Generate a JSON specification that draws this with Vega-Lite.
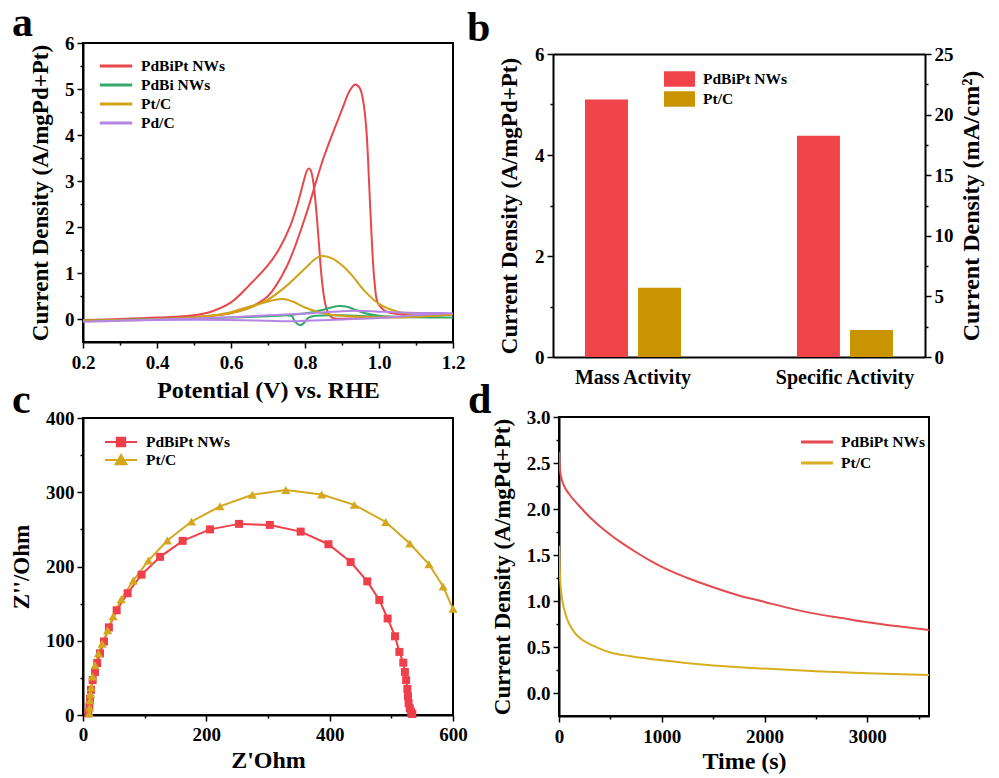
{
  "$schema": "https://vega.github.io/schema/vega-lite/v6.json",
  "background": "white",
  "padding": {"left": 9, "top": 1, "right": 5, "bottom": 2},
  "config": {
    "font": "Liberation Serif",
    "view": {"stroke": "black", "strokeWidth": 2},
    "axis": {"labelFont": "Liberation Serif", "labelFontWeight": "bold", "labelFontSize": 19, "labelColor": "black",
      "titleFont": "Liberation Serif", "titleFontWeight": "bold", "titleFontSize": 24, "titleColor": "black",
      "domainColor": "black", "domainWidth": 2, "tickColor": "black", "tickWidth": 1.5, "grid": false, "labelFlush": false, "labelOverlap": false},
    "axisY": {"titleFontSize": 23},
    "legend": {"labelFont": "Liberation Serif", "labelFontWeight": "bold", "labelFontSize": 15.5, "labelColor": "black", "padding": 0, "rowPadding": 0},
    "title": {"font": "Liberation Serif", "fontWeight": "bold", "fontSize": 42, "color": "black", "anchor": "start", "frame": "group", "baseline": "alphabetic"}
  },
  "columns": 2,
  "align": "none",
  "spacing": {"row": -25, "column": -2},
  "resolve": {"scale": {"color": "independent", "shape": "independent"}, "legend": {"color": "independent", "shape": "independent"}},
  "concat": [
    {
      "width": 370, "height": 299,
      "title": {"text": "a", "dx": -71, "offset": -11},
      "data": {"values": [
        {"s": "PdBiPt NWs", "i": 1, "v": 0.2, "j": -0.03}, {"s": "PdBiPt NWs", "i": 2, "v": 0.3, "j": -0.02}, {"s": "PdBiPt NWs", "i": 3, "v": 0.4, "j": 0.0}, {"s": "PdBiPt NWs", "i": 4, "v": 0.5, "j": 0.04}, {"s": "PdBiPt NWs", "i": 5, "v": 0.55, "j": 0.07}, {"s": "PdBiPt NWs", "i": 6, "v": 0.6, "j": 0.13}, {"s": "PdBiPt NWs", "i": 7, "v": 0.65, "j": 0.25}, {"s": "PdBiPt NWs", "i": 8, "v": 0.7, "j": 0.5}, {"s": "PdBiPt NWs", "i": 9, "v": 0.75, "j": 1.13}, {"s": "PdBiPt NWs", "i": 10, "v": 0.8, "j": 2.2}, {"s": "PdBiPt NWs", "i": 11, "v": 0.85, "j": 3.5}, {"s": "PdBiPt NWs", "i": 12, "v": 0.9, "j": 4.55}, {"s": "PdBiPt NWs", "i": 13, "v": 0.92, "j": 4.95}, {"s": "PdBiPt NWs", "i": 14, "v": 0.935, "j": 5.1}, {"s": "PdBiPt NWs", "i": 15, "v": 0.948, "j": 5.02}, {"s": "PdBiPt NWs", "i": 16, "v": 0.958, "j": 4.7}, {"s": "PdBiPt NWs", "i": 17, "v": 0.966, "j": 4.1}, {"s": "PdBiPt NWs", "i": 18, "v": 0.973, "j": 3.0}, {"s": "PdBiPt NWs", "i": 19, "v": 0.98, "j": 1.8}, {"s": "PdBiPt NWs", "i": 20, "v": 0.988, "j": 0.8}, {"s": "PdBiPt NWs", "i": 21, "v": 0.997, "j": 0.35}, {"s": "PdBiPt NWs", "i": 22, "v": 1.02, "j": 0.16}, {"s": "PdBiPt NWs", "i": 23, "v": 1.06, "j": 0.1}, {"s": "PdBiPt NWs", "i": 24, "v": 1.12, "j": 0.08}, {"s": "PdBiPt NWs", "i": 25, "v": 1.2, "j": 0.1},
        {"s": "PdBiPt NWs", "i": 26, "v": 1.1, "j": 0.05}, {"s": "PdBiPt NWs", "i": 27, "v": 1.0, "j": 0.03}, {"s": "PdBiPt NWs", "i": 28, "v": 0.92, "j": 0.01}, {"s": "PdBiPt NWs", "i": 29, "v": 0.88, "j": 0.01}, {"s": "PdBiPt NWs", "i": 30, "v": 0.87, "j": 0.05}, {"s": "PdBiPt NWs", "i": 31, "v": 0.86, "j": 0.18}, {"s": "PdBiPt NWs", "i": 32, "v": 0.852, "j": 0.45}, {"s": "PdBiPt NWs", "i": 33, "v": 0.845, "j": 0.9}, {"s": "PdBiPt NWs", "i": 34, "v": 0.838, "j": 1.6}, {"s": "PdBiPt NWs", "i": 35, "v": 0.83, "j": 2.4}, {"s": "PdBiPt NWs", "i": 36, "v": 0.822, "j": 3.0}, {"s": "PdBiPt NWs", "i": 37, "v": 0.815, "j": 3.24}, {"s": "PdBiPt NWs", "i": 38, "v": 0.81, "j": 3.27}, {"s": "PdBiPt NWs", "i": 39, "v": 0.805, "j": 3.22}, {"s": "PdBiPt NWs", "i": 40, "v": 0.795, "j": 2.95}, {"s": "PdBiPt NWs", "i": 41, "v": 0.78, "j": 2.5}, {"s": "PdBiPt NWs", "i": 42, "v": 0.76, "j": 2.02}, {"s": "PdBiPt NWs", "i": 43, "v": 0.73, "j": 1.52}, {"s": "PdBiPt NWs", "i": 44, "v": 0.7, "j": 1.17}, {"s": "PdBiPt NWs", "i": 45, "v": 0.65, "j": 0.74}, {"s": "PdBiPt NWs", "i": 46, "v": 0.6, "j": 0.36}, {"s": "PdBiPt NWs", "i": 47, "v": 0.55, "j": 0.17}, {"s": "PdBiPt NWs", "i": 48, "v": 0.5, "j": 0.08}, {"s": "PdBiPt NWs", "i": 49, "v": 0.4, "j": 0.03}, {"s": "PdBiPt NWs", "i": 50, "v": 0.3, "j": 0.0}, {"s": "PdBiPt NWs", "i": 51, "v": 0.2, "j": -0.02},
        {"s": "PdBi NWs", "i": 1, "v": 0.2, "j": -0.04}, {"s": "PdBi NWs", "i": 2, "v": 0.4, "j": -0.01}, {"s": "PdBi NWs", "i": 3, "v": 0.6, "j": 0.03}, {"s": "PdBi NWs", "i": 4, "v": 0.7, "j": 0.06}, {"s": "PdBi NWs", "i": 5, "v": 0.8, "j": 0.12}, {"s": "PdBi NWs", "i": 6, "v": 0.85, "j": 0.2}, {"s": "PdBi NWs", "i": 7, "v": 0.87, "j": 0.25}, {"s": "PdBi NWs", "i": 8, "v": 0.89, "j": 0.28}, {"s": "PdBi NWs", "i": 9, "v": 0.91, "j": 0.27}, {"s": "PdBi NWs", "i": 10, "v": 0.93, "j": 0.22}, {"s": "PdBi NWs", "i": 11, "v": 0.96, "j": 0.13}, {"s": "PdBi NWs", "i": 12, "v": 1.0, "j": 0.07}, {"s": "PdBi NWs", "i": 13, "v": 1.1, "j": 0.04}, {"s": "PdBi NWs", "i": 14, "v": 1.2, "j": 0.03},
        {"s": "PdBi NWs", "i": 15, "v": 1.0, "j": 0.05}, {"s": "PdBi NWs", "i": 16, "v": 0.9, "j": 0.08}, {"s": "PdBi NWs", "i": 17, "v": 0.83, "j": 0.07}, {"s": "PdBi NWs", "i": 18, "v": 0.81, "j": 0.03}, {"s": "PdBi NWs", "i": 19, "v": 0.8, "j": -0.06}, {"s": "PdBi NWs", "i": 20, "v": 0.79, "j": -0.13}, {"s": "PdBi NWs", "i": 21, "v": 0.78, "j": -0.11}, {"s": "PdBi NWs", "i": 22, "v": 0.77, "j": -0.02}, {"s": "PdBi NWs", "i": 23, "v": 0.765, "j": 0.06}, {"s": "PdBi NWs", "i": 24, "v": 0.75, "j": 0.08}, {"s": "PdBi NWs", "i": 25, "v": 0.7, "j": 0.06}, {"s": "PdBi NWs", "i": 26, "v": 0.6, "j": 0.03}, {"s": "PdBi NWs", "i": 27, "v": 0.4, "j": 0.0}, {"s": "PdBi NWs", "i": 28, "v": 0.2, "j": -0.04},
        {"s": "Pt/C", "i": 1, "v": 0.2, "j": -0.04}, {"s": "Pt/C", "i": 2, "v": 0.3, "j": -0.03}, {"s": "Pt/C", "i": 3, "v": 0.4, "j": -0.01}, {"s": "Pt/C", "i": 4, "v": 0.5, "j": 0.04}, {"s": "Pt/C", "i": 5, "v": 0.55, "j": 0.07}, {"s": "Pt/C", "i": 6, "v": 0.6, "j": 0.13}, {"s": "Pt/C", "i": 7, "v": 0.65, "j": 0.24}, {"s": "Pt/C", "i": 8, "v": 0.7, "j": 0.42}, {"s": "Pt/C", "i": 9, "v": 0.75, "j": 0.72}, {"s": "Pt/C", "i": 10, "v": 0.8, "j": 1.1}, {"s": "Pt/C", "i": 11, "v": 0.83, "j": 1.32}, {"s": "Pt/C", "i": 12, "v": 0.845, "j": 1.37}, {"s": "Pt/C", "i": 13, "v": 0.87, "j": 1.33}, {"s": "Pt/C", "i": 14, "v": 0.9, "j": 1.17}, {"s": "Pt/C", "i": 15, "v": 0.93, "j": 0.92}, {"s": "Pt/C", "i": 16, "v": 0.96, "j": 0.62}, {"s": "Pt/C", "i": 17, "v": 1.0, "j": 0.33}, {"s": "Pt/C", "i": 18, "v": 1.05, "j": 0.16}, {"s": "Pt/C", "i": 19, "v": 1.1, "j": 0.1}, {"s": "Pt/C", "i": 20, "v": 1.2, "j": 0.1},
        {"s": "Pt/C", "i": 21, "v": 1.1, "j": 0.05}, {"s": "Pt/C", "i": 22, "v": 1.0, "j": 0.04}, {"s": "Pt/C", "i": 23, "v": 0.9, "j": 0.07}, {"s": "Pt/C", "i": 24, "v": 0.85, "j": 0.12}, {"s": "Pt/C", "i": 25, "v": 0.8, "j": 0.25}, {"s": "Pt/C", "i": 26, "v": 0.77, "j": 0.37}, {"s": "Pt/C", "i": 27, "v": 0.745, "j": 0.43}, {"s": "Pt/C", "i": 28, "v": 0.72, "j": 0.42}, {"s": "Pt/C", "i": 29, "v": 0.7, "j": 0.38}, {"s": "Pt/C", "i": 30, "v": 0.65, "j": 0.27}, {"s": "Pt/C", "i": 31, "v": 0.6, "j": 0.15}, {"s": "Pt/C", "i": 32, "v": 0.55, "j": 0.08}, {"s": "Pt/C", "i": 33, "v": 0.5, "j": 0.04}, {"s": "Pt/C", "i": 34, "v": 0.4, "j": 0.0}, {"s": "Pt/C", "i": 35, "v": 0.3, "j": -0.02}, {"s": "Pt/C", "i": 36, "v": 0.2, "j": -0.03},
        {"s": "Pd/C", "i": 1, "v": 0.2, "j": -0.06}, {"s": "Pd/C", "i": 2, "v": 0.3, "j": -0.03}, {"s": "Pd/C", "i": 3, "v": 0.4, "j": -0.01}, {"s": "Pd/C", "i": 4, "v": 0.5, "j": 0.01}, {"s": "Pd/C", "i": 5, "v": 0.6, "j": 0.04}, {"s": "Pd/C", "i": 6, "v": 0.7, "j": 0.08}, {"s": "Pd/C", "i": 7, "v": 0.8, "j": 0.12}, {"s": "Pd/C", "i": 8, "v": 0.9, "j": 0.17}, {"s": "Pd/C", "i": 9, "v": 0.95, "j": 0.18}, {"s": "Pd/C", "i": 10, "v": 1.0, "j": 0.16}, {"s": "Pd/C", "i": 11, "v": 1.1, "j": 0.13}, {"s": "Pd/C", "i": 12, "v": 1.2, "j": 0.13},
        {"s": "Pd/C", "i": 13, "v": 1.1, "j": 0.08}, {"s": "Pd/C", "i": 14, "v": 1.0, "j": 0.02}, {"s": "Pd/C", "i": 15, "v": 0.9, "j": -0.01}, {"s": "Pd/C", "i": 16, "v": 0.8, "j": -0.04}, {"s": "Pd/C", "i": 17, "v": 0.75, "j": -0.05}, {"s": "Pd/C", "i": 18, "v": 0.7, "j": -0.04}, {"s": "Pd/C", "i": 19, "v": 0.6, "j": -0.02}, {"s": "Pd/C", "i": 20, "v": 0.4, "j": -0.02}, {"s": "Pd/C", "i": 21, "v": 0.2, "j": -0.06}
      ]},
      "mark": {"type": "line", "strokeWidth": 2, "clip": true, "interpolate": "catmull-rom"},
      "encoding": {
        "x": {"field": "v", "type": "quantitative", "scale": {"domain": [0.2, 1.2], "nice": false, "zero": false},
          "axis": {"title": "Potential (V) vs. RHE", "values": [0.2, 0.3, 0.4, 0.5, 0.6, 0.7, 0.8, 0.9, 1.0, 1.1, 1.2],
            "labelExpr": "round(datum.value*10)%2==0 ? format(datum.value,'.1f') : ''",
            "tickSize": {"condition": {"test": "round(datum.value*10)%2==0", "value": 6}, "value": 3},
            "labelPadding": 5, "titlePadding": 6}},
        "y": {"field": "j", "type": "quantitative", "scale": {"domain": [-0.5, 6], "nice": false, "zero": false},
          "axis": {"title": "Current Density (A/mgPd+Pt)", "values": [0, 0.5, 1, 1.5, 2, 2.5, 3, 3.5, 4, 4.5, 5, 5.5, 6],
            "labelExpr": "datum.value%1==0 ? format(datum.value,'d') : ''",
            "tickSize": {"condition": {"test": "datum.value%1==0", "value": 6}, "value": 3},
            "labelPadding": 3, "titlePadding": 12}},
        "color": {"field": "s", "type": "nominal",
          "scale": {"domain": ["PdBiPt NWs", "PdBi NWs", "Pt/C", "Pd/C"], "range": ["#E8474B", "#35A86B", "#CFA217", "#B585E6"]},
          "legend": {"title": null, "orient": "none", "legendX": 15, "legendY": 13.5, "symbolType": "stroke", "symbolSize": 1050, "symbolStrokeWidth": 3, "clipHeight": 19, "labelOffset": 7}},
        "order": {"field": "i", "type": "quantitative"}
      }
    },
    {
      "width": 372, "height": 314,
      "view": {"stroke": null},
      "title": {"text": "b", "dx": -86, "offset": -6.5},
      "data": {"values": [
        {"cat": "Mass Activity", "s": "PdBiPt NWs", "m": 5.1},
        {"cat": "Mass Activity", "s": "Pt/C", "m": 1.37},
        {"cat": "Specific Activity", "s": "PdBiPt NWs", "sa": 18.26},
        {"cat": "Specific Activity", "s": "Pt/C", "sa": 2.23}
      ]},
      "encoding": {
        "x": {"field": "cat", "type": "nominal", "scale": {"domain": ["Mass Activity", "Specific Activity"], "paddingInner": 0.547, "paddingOuter": 0.151},
          "axis": {"title": null, "labelAngle": 0, "ticks": false, "labelPadding": 10, "labelFontSize": 20}},
        "xOffset": {"field": "s", "type": "nominal", "scale": {"domain": ["PdBiPt NWs", "Pt/C"], "paddingInner": 0.19}},
        "color": {"field": "s", "type": "nominal",
          "scale": {"domain": ["PdBiPt NWs", "Pt/C"], "range": ["#F04448", "#C99400"]},
          "legend": {"title": null, "orient": "none", "legendX": 111, "legendY": 26, "symbolType": "M-1,-0.5H1V0.5H-1Z", "symbolSize": 961, "symbolStrokeWidth": 0, "clipHeight": 20, "labelOffset": 8}}
      },
      "layer": [
        {
          "transform": [{"filter": "datum.cat == 'Mass Activity'"}],
          "mark": {"type": "bar"},
          "encoding": {
            "y": {"field": "m", "type": "quantitative", "scale": {"domain": [0, 6], "nice": false, "range": [314, 11]},
              "axis": {"orient": "left", "title": "Current Density (A/mgPd+Pt)", "values": [0, 1, 2, 3, 4, 5, 6],
                "labelExpr": "datum.value%2==0 ? format(datum.value,'d') : ''",
                "tickSize": {"condition": {"test": "datum.value%2==0", "value": 6}, "value": 3},
                "labelPadding": 3, "titlePadding": 13, "titleY": 162.5}}
          }
        },
        {
          "transform": [{"filter": "datum.cat == 'Specific Activity'"}],
          "mark": {"type": "bar"},
          "encoding": {
            "x": {"field": "cat", "type": "nominal",
              "axis": {"orient": "top", "title": null, "labels": false, "ticks": false, "domain": true, "offset": -11}},
            "y": {"field": "sa", "type": "quantitative", "scale": {"domain": [0, 25], "nice": false, "range": [314, 11]},
              "axis": {"orient": "right", "title": "Current Density (mA/cm²)", "titleAngle": 270, "titleBaseline": "top", "titleFontSize": 24,
                "values": [0, 2.5, 5, 7.5, 10, 12.5, 15, 17.5, 20, 22.5, 25],
                "labelExpr": "datum.value%5==0 ? format(datum.value,'d') : ''",
                "tickSize": {"condition": {"test": "datum.value%5==0", "value": 6}, "value": 3},
                "labelPadding": 3, "titlePadding": 6, "titleY": 162.5}}
          }
        }
      ],
      "resolve": {"scale": {"y": "independent"}, "axis": {"x": "independent"}}
    },
    {
      "width": 370, "height": 297,
      "title": {"text": "c", "dx": -71, "offset": -13},
      "data": {"values": [
        {"s": "PdBiPt NWs", "i": 1, "zr": 8.6, "zi": 2.2}, {"s": "PdBiPt NWs", "i": 2, "zr": 10.3, "zi": 11}, {"s": "PdBiPt NWs", "i": 3, "zr": 11.4, "zi": 22}, {"s": "PdBiPt NWs", "i": 4, "zr": 13, "zi": 34}, {"s": "PdBiPt NWs", "i": 5, "zr": 15.7, "zi": 47}, {"s": "PdBiPt NWs", "i": 6, "zr": 19.5, "zi": 58}, {"s": "PdBiPt NWs", "i": 7, "zr": 23, "zi": 70}, {"s": "PdBiPt NWs", "i": 8, "zr": 27.6, "zi": 83}, {"s": "PdBiPt NWs", "i": 9, "zr": 34, "zi": 99}, {"s": "PdBiPt NWs", "i": 10, "zr": 42, "zi": 118}, {"s": "PdBiPt NWs", "i": 11, "zr": 54.6, "zi": 141}, {"s": "PdBiPt NWs", "i": 12, "zr": 72.4, "zi": 164}, {"s": "PdBiPt NWs", "i": 13, "zr": 95, "zi": 189}, {"s": "PdBiPt NWs", "i": 14, "zr": 125, "zi": 213}, {"s": "PdBiPt NWs", "i": 15, "zr": 161.6, "zi": 234.5}, {"s": "PdBiPt NWs", "i": 16, "zr": 206, "zi": 250}, {"s": "PdBiPt NWs", "i": 17, "zr": 253, "zi": 257.4}, {"s": "PdBiPt NWs", "i": 18, "zr": 303, "zi": 256}, {"s": "PdBiPt NWs", "i": 19, "zr": 353, "zi": 247}, {"s": "PdBiPt NWs", "i": 20, "zr": 398, "zi": 230}, {"s": "PdBiPt NWs", "i": 21, "zr": 434, "zi": 206}, {"s": "PdBiPt NWs", "i": 22, "zr": 461, "zi": 180}, {"s": "PdBiPt NWs", "i": 23, "zr": 480.5, "zi": 155}, {"s": "PdBiPt NWs", "i": 24, "zr": 494, "zi": 130}, {"s": "PdBiPt NWs", "i": 25, "zr": 506, "zi": 106}, {"s": "PdBiPt NWs", "i": 26, "zr": 513, "zi": 85}, {"s": "PdBiPt NWs", "i": 27, "zr": 519.4, "zi": 70.5}, {"s": "PdBiPt NWs", "i": 28, "zr": 522, "zi": 58}, {"s": "PdBiPt NWs", "i": 29, "zr": 524, "zi": 47}, {"s": "PdBiPt NWs", "i": 30, "zr": 526, "zi": 35}, {"s": "PdBiPt NWs", "i": 31, "zr": 527, "zi": 25}, {"s": "PdBiPt NWs", "i": 32, "zr": 528, "zi": 16}, {"s": "PdBiPt NWs", "i": 33, "zr": 529.9, "zi": 9}, {"s": "PdBiPt NWs", "i": 34, "zr": 532, "zi": 4.5}, {"s": "PdBiPt NWs", "i": 35, "zr": 534, "zi": 1.3},
        {"s": "Pt/C", "i": 1, "zr": 10.3, "zi": 2.2}, {"s": "Pt/C", "i": 2, "zr": 10.8, "zi": 10}, {"s": "Pt/C", "i": 3, "zr": 11.4, "zi": 20}, {"s": "Pt/C", "i": 4, "zr": 12.4, "zi": 28}, {"s": "Pt/C", "i": 5, "zr": 13.5, "zi": 37}, {"s": "Pt/C", "i": 6, "zr": 15.7, "zi": 51.7}, {"s": "Pt/C", "i": 7, "zr": 19.5, "zi": 67}, {"s": "Pt/C", "i": 8, "zr": 25, "zi": 83}, {"s": "Pt/C", "i": 9, "zr": 31, "zi": 96}, {"s": "Pt/C", "i": 10, "zr": 40, "zi": 114}, {"s": "Pt/C", "i": 11, "zr": 49, "zi": 133}, {"s": "Pt/C", "i": 12, "zr": 62, "zi": 156}, {"s": "Pt/C", "i": 13, "zr": 81.6, "zi": 181}, {"s": "Pt/C", "i": 14, "zr": 106, "zi": 208}, {"s": "Pt/C", "i": 15, "zr": 136.8, "zi": 235}, {"s": "Pt/C", "i": 16, "zr": 176, "zi": 260.5}, {"s": "Pt/C", "i": 17, "zr": 222, "zi": 281}, {"s": "Pt/C", "i": 18, "zr": 274.6, "zi": 296.5}, {"s": "Pt/C", "i": 19, "zr": 329, "zi": 303}, {"s": "Pt/C", "i": 20, "zr": 387, "zi": 297}, {"s": "Pt/C", "i": 21, "zr": 440, "zi": 283}, {"s": "Pt/C", "i": 22, "zr": 491, "zi": 260}, {"s": "Pt/C", "i": 23, "zr": 530, "zi": 231}, {"s": "Pt/C", "i": 24, "zr": 561, "zi": 203}, {"s": "Pt/C", "i": 25, "zr": 584, "zi": 173}, {"s": "Pt/C", "i": 26, "zr": 600, "zi": 143}
      ]},
      "encoding": {
        "x": {"field": "zr", "type": "quantitative", "scale": {"domain": [0, 600], "nice": false},
          "axis": {"title": "Z'Ohm", "values": [0, 100, 200, 300, 400, 500, 600],
            "labelExpr": "datum.value%200==0 ? format(datum.value,'d') : ''",
            "tickSize": {"condition": {"test": "datum.value%200==0", "value": 6}, "value": 3},
            "labelPadding": 4, "titlePadding": 4}},
        "y": {"field": "zi", "type": "quantitative", "scale": {"domain": [0, 400], "nice": false},
          "axis": {"title": "Z''/Ohm", "values": [0, 50, 100, 150, 200, 250, 300, 350, 400],
            "labelExpr": "datum.value%100==0 ? format(datum.value,'d') : ''",
            "tickSize": {"condition": {"test": "datum.value%100==0", "value": 6}, "value": 3},
            "labelPadding": 3, "titlePadding": 12}}
      },
      "layer": [
        {"mark": {"type": "line", "strokeWidth": 2},
          "encoding": {
            "order": {"field": "i", "type": "quantitative"},
            "color": {"field": "s", "type": "nominal",
              "scale": {"domain": ["PdBiPt NWs", "Pt/C"], "range": ["#EE3F4A", "#D3A81E"]},
              "legend": {"title": null, "orient": "none", "legendX": 21, "legendY": 15, "symbolType": "stroke", "symbolSize": 1024, "symbolStrokeWidth": 2, "clipHeight": 18, "labelOffset": 8,
                "encode": {"symbols": {"update": {
                  "shape": {"signal": "datum.value == 'Pt/C' ? 'M-1,0H1M0,-0.32L0.34,0.26H-0.34Z' : 'M-1,0H1M-0.26,-0.26H0.26V0.26H-0.26Z'"},
                  "fill": {"signal": "datum.value == 'Pt/C' ? '#D3A81E' : '#EE3F4A'"},
                  "stroke": {"signal": "datum.value == 'Pt/C' ? '#D3A81E' : '#EE3F4A'"},
                  "strokeWidth": {"value": 2}}}}}}
          }},
        {"transform": [{"filter": "datum.s == 'PdBiPt NWs'"}],
          "mark": {"type": "point", "shape": "square", "filled": true, "opacity": 1, "size": 64, "color": "#EE3F4A"}},
        {"transform": [{"filter": "datum.s == 'Pt/C'"}],
          "mark": {"type": "point", "shape": "triangle-up", "filled": true, "opacity": 1, "size": 85, "color": "#D3A81E"}}
      ]
    },
    {
      "width": 370, "height": 299,
      "title": {"text": "d", "dx": -91, "offset": -14},
      "data": {"values": [
        {"s": "PdBiPt NWs", "t": 0, "c": 2.62}, {"s": "PdBiPt NWs", "t": 5, "c": 2.5}, {"s": "PdBiPt NWs", "t": 10, "c": 2.42}, {"s": "PdBiPt NWs", "t": 20, "c": 2.35}, {"s": "PdBiPt NWs", "t": 35, "c": 2.29}, {"s": "PdBiPt NWs", "t": 50, "c": 2.25}, {"s": "PdBiPt NWs", "t": 75, "c": 2.2}, {"s": "PdBiPt NWs", "t": 100, "c": 2.16}, {"s": "PdBiPt NWs", "t": 150, "c": 2.09}, {"s": "PdBiPt NWs", "t": 200, "c": 2.03}, {"s": "PdBiPt NWs", "t": 300, "c": 1.91}, {"s": "PdBiPt NWs", "t": 400, "c": 1.81}, {"s": "PdBiPt NWs", "t": 500, "c": 1.72}, {"s": "PdBiPt NWs", "t": 600, "c": 1.64}, {"s": "PdBiPt NWs", "t": 750, "c": 1.53}, {"s": "PdBiPt NWs", "t": 900, "c": 1.43}, {"s": "PdBiPt NWs", "t": 1000, "c": 1.37}, {"s": "PdBiPt NWs", "t": 1250, "c": 1.25}, {"s": "PdBiPt NWs", "t": 1500, "c": 1.15}, {"s": "PdBiPt NWs", "t": 1750, "c": 1.06}, {"s": "PdBiPt NWs", "t": 2000, "c": 0.99}, {"s": "PdBiPt NWs", "t": 2250, "c": 0.92}, {"s": "PdBiPt NWs", "t": 2500, "c": 0.86}, {"s": "PdBiPt NWs", "t": 2750, "c": 0.815}, {"s": "PdBiPt NWs", "t": 3000, "c": 0.77}, {"s": "PdBiPt NWs", "t": 3300, "c": 0.725}, {"s": "PdBiPt NWs", "t": 3600, "c": 0.685},
        {"s": "Pt/C", "t": 0, "c": 1.6}, {"s": "Pt/C", "t": 3, "c": 1.45}, {"s": "Pt/C", "t": 8, "c": 1.3}, {"s": "Pt/C", "t": 15, "c": 1.17}, {"s": "Pt/C", "t": 25, "c": 1.06}, {"s": "Pt/C", "t": 40, "c": 0.96}, {"s": "Pt/C", "t": 60, "c": 0.87}, {"s": "Pt/C", "t": 80, "c": 0.8}, {"s": "Pt/C", "t": 100, "c": 0.75}, {"s": "Pt/C", "t": 150, "c": 0.66}, {"s": "Pt/C", "t": 200, "c": 0.6}, {"s": "Pt/C", "t": 300, "c": 0.53}, {"s": "Pt/C", "t": 400, "c": 0.48}, {"s": "Pt/C", "t": 500, "c": 0.44}, {"s": "Pt/C", "t": 700, "c": 0.4}, {"s": "Pt/C", "t": 1000, "c": 0.355}, {"s": "Pt/C", "t": 1500, "c": 0.3}, {"s": "Pt/C", "t": 2000, "c": 0.265}, {"s": "Pt/C", "t": 2500, "c": 0.237}, {"s": "Pt/C", "t": 3000, "c": 0.215}, {"s": "Pt/C", "t": 3600, "c": 0.195}
      ]},
      "mark": {"type": "line", "strokeWidth": 2, "clip": true, "interpolate": "monotone"},
      "encoding": {
        "x": {"field": "t", "type": "quantitative", "scale": {"domain": [0, 3600], "nice": false},
          "axis": {"title": "Time (s)", "values": [0, 500, 1000, 1500, 2000, 2500, 3000, 3500],
            "labelExpr": "datum.value%1000==0 ? format(datum.value,'d') : ''",
            "tickSize": {"condition": {"test": "datum.value%1000==0", "value": 6}, "value": 3},
            "labelPadding": 5, "titlePadding": 3}},
        "y": {"field": "c", "type": "quantitative", "scale": {"domain": [-0.25, 3.0], "nice": false, "zero": false},
          "axis": {"title": "Current Density (A/mgPd+Pt)", "values": [0, 0.25, 0.5, 0.75, 1, 1.25, 1.5, 1.75, 2, 2.25, 2.5, 2.75, 3],
            "labelExpr": "round(datum.value*4)%2==0 ? format(datum.value,'.1f') : ''",
            "tickSize": {"condition": {"test": "round(datum.value*4)%2==0", "value": 6}, "value": 3},
            "labelPadding": 3, "titlePadding": 12}},
        "color": {"field": "s", "type": "nominal",
          "scale": {"domain": ["PdBiPt NWs", "Pt/C"], "range": ["#E34B4E", "#D6AE1F"]},
          "legend": {"title": null, "orient": "none", "legendX": 240.5, "legendY": 14.5, "symbolType": "stroke", "symbolSize": 1024, "symbolStrokeWidth": 3, "clipHeight": 21, "labelOffset": 6.5}},
        "order": {"field": "t", "type": "quantitative"}
      }
    }
  ]
}
